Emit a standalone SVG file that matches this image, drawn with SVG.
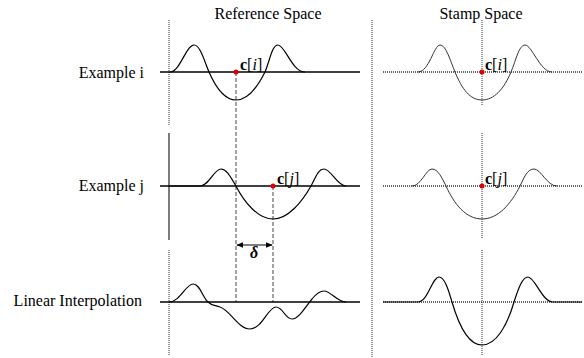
<svg xmlns="http://www.w3.org/2000/svg" width="584" height="358" viewBox="0 0 584 358">
<defs>
<style>
text{font-family:"Liberation Serif","DejaVu Serif",serif;font-size:16px;fill:#000}
.lbl{text-anchor:end}
.ttl{text-anchor:middle}
.axis{stroke:#000;stroke-width:1.4;fill:none}
.daxis{stroke:#333;stroke-width:1.4;stroke-dasharray:1 1;fill:none}
.vdot{stroke:#555;stroke-width:1.2;stroke-dasharray:1 1;fill:none}
.vsolid{stroke:#444;stroke-width:1.4;fill:none}
.dash{stroke:#666;stroke-width:1.2;stroke-dasharray:4 2;fill:none}
.crv{stroke:#000;stroke-width:1.2;fill:none}
.crvg{stroke:#333;stroke-width:1;fill:none}
.pt{fill:#d00}
.b{font-weight:bold}
.it{font-style:italic}
</style>
<marker id="ah" viewBox="0 0 10 10" refX="9" refY="5" markerWidth="6" markerHeight="6" orient="auto-start-reverse">
<path d="M0,1 L10,5 L0,9 z" fill="#000"/>
</marker>
</defs>

<g id="titles" font-family="'Liberation Serif', 'DejaVu Serif', serif">
<text class="ttl" x="268" y="19">Reference Space</text>
<text class="ttl" x="481" y="19">Stamp Space</text>
</g>
<g id="row-labels" font-family="'Liberation Serif', 'DejaVu Serif', serif">
<text class="lbl" x="144" y="78">Example i</text>
<text class="lbl" x="144" y="191">Example j</text>
<text class="lbl" x="142" y="306">Linear Interpolation</text>
</g>

<g id="frame">
<line class="vdot" x1="169" y1="20" x2="169" y2="125"/>
<line class="vsolid" x1="169" y1="133" x2="169" y2="240"/>
<line class="vdot" x1="169" y1="250" x2="169" y2="356"/>
<line class="vdot" x1="372" y1="20" x2="372" y2="358"/>
<line class="vdot" x1="482" y1="20" x2="482" y2="106"/>
<line class="vdot" x1="482" y1="133" x2="482" y2="239"/>
<line class="vdot" x1="482" y1="250" x2="482" y2="356"/>
</g>

<g id="connectors">
<line class="dash" x1="236" y1="72" x2="236" y2="302"/>
<line class="dash" x1="273" y1="186" x2="273" y2="302"/>
<line x1="237" y1="245" x2="272" y2="245" stroke="#000" stroke-width="1.2" marker-start="url(#ah)" marker-end="url(#ah)"/>
<text x="254" y="258" class="b it" text-anchor="middle" font-size="15">δ</text>
</g>

<g id="ref-example-i">
<line class="axis" x1="160" y1="72" x2="360" y2="72"/>
<path class="crv" d="M170,72 C180,72 186,45 194,45 C200,45 204,60 209,72 C216,88 225,100 236,100 C247,100 257,88 265,72 C270,60 272,45 278,45 C285,45 292,72 305,72"/>
<circle class="pt" cx="236" cy="72" r="2.5"/>
<text x="240" y="70"><tspan class="b">c</tspan>[<tspan class="it">i</tspan>]</text>
</g>

<g id="ref-example-j">
<line class="axis" x1="160" y1="186" x2="360" y2="186"/>
<path class="crv" d="M169,186 L200,186 C209,186 214,169 221,169 C227,169 231,178 236,186 C244,202 258,219 273,219 C288,219 302,202 311,186 C316,177 318,169 324,169 C331,169 337,186 346,186"/>
<circle class="pt" cx="273" cy="186" r="2.5"/>
<text x="277" y="184"><tspan class="b">c</tspan>[<tspan class="it">j</tspan>]</text>
</g>

<g id="ref-interp">
<line class="axis" x1="160" y1="302" x2="360" y2="302"/>
<path class="crv" d="M169,302 C180,302 186,284 193,284 C200,284 203,298 208,302 C212,306 215,305 220,307 C230,310 238,329 250,329 C262,329 268,307 276,307 C283,307 285,319 292,319 C299,319 306,306 312,299 C316,294 319,291 324,291 C331,291 337,302 346,302"/>
</g>

<g id="stamp-example-i">
<line class="daxis" x1="383" y1="72" x2="582" y2="72"/>
<path class="crvg" d="M418,72 C429,72 434,45 440,45 C446,45 450,60 455,72 C462,89 470,100 482,100 C494,100 504,89 511,72 C516,60 519,45 525,45 C532,45 540,72 552,72"/>
<circle class="pt" cx="482" cy="72" r="2.5"/>
<text x="485" y="70"><tspan class="b">c</tspan>[<tspan class="it">i</tspan>]</text>
</g>

<g id="stamp-example-j">
<line class="daxis" x1="383" y1="186" x2="582" y2="186"/>
<path class="crvg" d="M412,186 C421,186 426,169 432,169 C438,169 442,178 446,186 C454,204 466,219 482,219 C498,219 511,204 520,186 C524,178 527,169 534,169 C541,169 547,186 557,186"/>
<circle class="pt" cx="482" cy="186" r="2.5"/>
<text x="485" y="184"><tspan class="b">c</tspan>[<tspan class="it">j</tspan>]</text>
</g>

<g id="stamp-interp">
<line class="daxis" x1="383" y1="302" x2="582" y2="302"/>
<path class="crv" d="M383,302 L418,302 C428,302 432,277 439,277 C445,277 449,292 452,302 C459,326 468,345 482,345 C496,345 507,326 514,302 C518,290 522,277 528,277 C535,277 542,302 553,302 L582,302"/>
</g>
</svg>
